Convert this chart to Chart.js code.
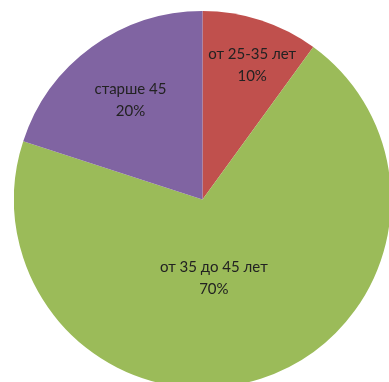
<!DOCTYPE html>
<html>
<head>
<meta charset="utf-8">
<script src="https://cdn.jsdelivr.net/npm/chart.js@4"></script>
<style>
  html, body { margin: 0; padding: 0; background: #fff; overflow: hidden; }
  body { width: 389px; height: 382px; position: relative; }
  #wrap { position: absolute; left: 14px; top: 11px; width: 377px; height: 377px; }
</style>
</head>
<body>
<div id="wrap"><canvas id="pie"></canvas></div>
<script>
const categories = ['от 25-35 лет', 'от 35 до 45 лет', 'старше 45'];
const shares = [10, 70, 20];
const colors = ['#C0504D', '#9BBB59', '#8064A2'];

// label placement: fraction of radius and angle nudge (radians) per slice
const labelRadius = [0.76, 0.42, 0.65];
const labelTurn = [0.04, 0.17, 0];

const sliceLabels = {
  id: 'sliceLabels',
  afterDatasetsDraw(chart) {
    const ctx = chart.ctx;
    const arcs = chart.getDatasetMeta(0).data;
    const total = shares.reduce((a, b) => a + b, 0);
    ctx.save();
    ctx.fillStyle = '#222';
    ctx.font = '15px Lato, "Open Sans", sans-serif';
    ctx.textAlign = 'center';
    ctx.textBaseline = 'middle';
    arcs.forEach((arc, i) => {
      const p = arc.getProps(['x', 'y', 'startAngle', 'endAngle', 'outerRadius'], true);
      const mid = (p.startAngle + p.endAngle) / 2 + labelTurn[i];
      const r = p.outerRadius * labelRadius[i];
      const x = p.x + Math.cos(mid) * r;
      const y = p.y + Math.sin(mid) * r;
      ctx.fillText(categories[i], x, y - 11);
      ctx.fillText(Math.round(shares[i] / total * 100) + '%', x, y + 11);
    });
    ctx.restore();
  }
};

new Chart(document.getElementById('pie'), {
  type: 'pie',
  data: {
    labels: categories,
    datasets: [{
      data: shares,
      backgroundColor: colors,
      borderWidth: 0
    }]
  },
  options: {
    responsive: true,
    maintainAspectRatio: false,
    animation: false,
    layout: { padding: 0 },
    plugins: {
      legend: { display: false },
      tooltip: { enabled: false }
    }
  },
  plugins: [sliceLabels]
});
</script>
</body>
</html>
